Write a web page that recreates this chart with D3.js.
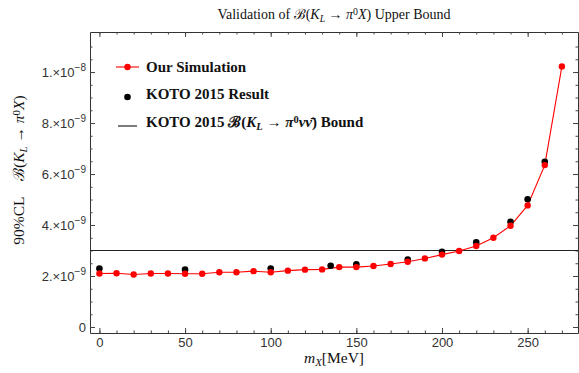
<!DOCTYPE html>
<html lang="en">
<head>
<meta charset="UTF-8">
<title>Validation of B(KL -> pi0 X) Upper Bound</title>
<script src="https://d3js.org/d3.v7.min.js"></script>
<style>
  body { margin: 0; background: #fff; }
</style>
</head>
<body>
<div id="chart"></div>
<script>
// masses in MeV, branching ratios in units of 1e-9
var simMass = [0, 10, 20, 30, 40, 50, 60, 70, 80, 90, 100, 110, 120, 130, 140,
               150, 160, 170, 180, 190, 200, 210, 220, 230, 240, 250, 260, 270];
var simBr = [2.10, 2.11, 2.06, 2.10, 2.10, 2.09, 2.09, 2.15, 2.15, 2.19, 2.15, 2.21, 2.25, 2.26, 2.35,
             2.35, 2.39, 2.47, 2.56, 2.69, 2.84, 2.98, 3.18, 3.50, 3.97, 4.77, 6.35, 10.22];
var kotoMass = [0, 50, 100, 135, 150, 180, 200, 220, 240, 250, 260];
var kotoBr = [2.29, 2.25, 2.29, 2.40, 2.46, 2.65, 2.95, 3.32, 4.13, 5.01, 6.48];
var kotoBound = 3.0;
var xTicks = [0, 50, 100, 150, 200, 250];
var yTicks = [0, 2, 4, 6, 8, 10];
var yTickLabels = ["0", "2.", "4.", "6.", "8.", "1."];
var yTickExp = [null, "-9", "-9", "-9", "-9", "-8"];

var W = 579, H = 373;
var m = {left: 90, right: 578, top: 32, bottom: 333};
var serif = "'Liberation Serif', 'DejaVu Serif', serif";
var sans = "'Liberation Sans', Arial, sans-serif";

var svg = d3.select("#chart").append("svg")
    .attr("width", W)
    .attr("height", H);

var x = d3.scaleLinear().domain([-5.5, 279.4]).range([m.left, m.right]);
var y = d3.scaleLinear().domain([-0.235, 11.57]).range([m.bottom, m.top]);

// rich text helper: parts are [text, style]
function rich(sel, parts, size) {
  parts.forEach(function(p) {
    var t = sel.append("tspan").text(p[0]);
    var s = p[1] || "";
    if (s.indexOf("i") >= 0) t.attr("font-style", "italic");
    if (s.indexOf("sub") >= 0) t.attr("font-size", size * 0.7).attr("baseline-shift", "-25%");
    if (s.indexOf("sup") >= 0) t.attr("font-size", size * 0.7).attr("baseline-shift", "40%");
  });
}

// frame axes with inward ticks
var tickCol = "#444";
function frameAxis(axis, tr) {
  var g = svg.append("g").attr("transform", tr).call(axis);
  g.select(".domain").attr("stroke", "#333");
  g.selectAll(".tick line").attr("stroke", tickCol);
  return g;
}
var xMinor = d3.range(0, 280, 10);
var yMinor = d3.range(0, 11.5, 0.5);

var gxb = frameAxis(d3.axisBottom(x).tickValues(xTicks).tickSizeInner(-5).tickSizeOuter(0).tickPadding(5)
    .tickFormat(d3.format("d")), "translate(0," + m.bottom + ")");
gxb.selectAll("text").attr("font-family", sans).attr("font-size", 13).attr("fill", "#333");
frameAxis(d3.axisBottom(x).tickValues(xMinor).tickSizeInner(-2.5).tickSizeOuter(0).tickFormat(""),
    "translate(0," + m.bottom + ")").select(".domain").remove();
frameAxis(d3.axisTop(x).tickValues(xTicks).tickSizeInner(-5).tickSizeOuter(0).tickFormat(""),
    "translate(0," + m.top + ")");
frameAxis(d3.axisTop(x).tickValues(xMinor).tickSizeInner(-2.5).tickSizeOuter(0).tickFormat(""),
    "translate(0," + m.top + ")").select(".domain").remove();

frameAxis(d3.axisLeft(y).tickValues(yTicks).tickSizeInner(-5).tickSizeOuter(0).tickFormat(""),
    "translate(" + m.left + ",0)");
frameAxis(d3.axisLeft(y).tickValues(yMinor).tickSizeInner(-2.5).tickSizeOuter(0).tickFormat(""),
    "translate(" + m.left + ",0)").select(".domain").remove();
frameAxis(d3.axisRight(y).tickValues(yTicks).tickSizeInner(-5).tickSizeOuter(0).tickFormat(""),
    "translate(" + m.right + ",0)");
frameAxis(d3.axisRight(y).tickValues(yMinor).tickSizeInner(-2.5).tickSizeOuter(0).tickFormat(""),
    "translate(" + m.right + ",0)").select(".domain").remove();

// y tick labels with exponents
yTicks.forEach(function(v, i) {
  var t = svg.append("text")
      .attr("x", m.left - 4)
      .attr("y", y(v) + 4.5)
      .attr("text-anchor", "end")
      .attr("font-family", sans)
      .attr("font-size", 13)
      .attr("fill", "#333");
  if (yTickExp[i] === null) {
    t.text(yTickLabels[i]);
  } else {
    t.append("tspan").text(yTickLabels[i] + "\u00d710");
    t.append("tspan").attr("font-size", 10).attr("dy", -6).text("\u2212" + yTickExp[i].slice(1));
  }
});

// KOTO bound line
svg.append("line")
    .attr("x1", m.left).attr("x2", m.right)
    .attr("y1", y(kotoBound)).attr("y2", y(kotoBound))
    .attr("stroke", "#222").attr("stroke-width", 1.2);

// simulation line + points
var line = d3.line().x(function(d, i) { return x(simMass[i]); }).y(function(d) { return y(d); });
svg.append("path")
    .datum(simBr)
    .attr("fill", "none")
    .attr("stroke", "#ff0000")
    .attr("stroke-width", 1.1)
    .attr("d", line);

svg.selectAll(".koto").data(kotoBr).enter().append("circle")
    .attr("cx", function(d, i) { return x(kotoMass[i]); })
    .attr("cy", function(d) { return y(d); })
    .attr("r", 3.3)
    .attr("fill", "#000");

svg.selectAll(".sim").data(simBr).enter().append("circle")
    .attr("cx", function(d, i) { return x(simMass[i]); })
    .attr("cy", function(d) { return y(d); })
    .attr("r", 3.2)
    .attr("fill", "#ff0000");

// title
var title = svg.append("text")
    .attr("x", (m.left + m.right) / 2).attr("y", 19)
    .attr("text-anchor", "middle")
    .attr("font-family", serif).attr("font-size", 14).attr("fill", "#111");
rich(title, [["Validation of "], ["\u212c("], ["K", "i"], ["L", "isub"], [" \u2192 "], ["\u03c0", "i"], ["0", "sup"], ["X", "i"], [") Upper Bound"]], 14);

// axis labels
var xl = svg.append("text")
    .attr("x", (m.left + m.right) / 2).attr("y", 363)
    .attr("text-anchor", "middle")
    .attr("font-family", serif).attr("font-size", 15.5).attr("fill", "#111");
rich(xl, [["m", "i"], ["X", "isub"], ["[MeV]"]], 15.5);

var yl = svg.append("text")
    .attr("transform", "translate(24,170) rotate(-90)")
    .attr("text-anchor", "middle")
    .attr("font-family", serif).attr("font-size", 15.5).attr("fill", "#111");
rich(yl, [["90%CL\u2003\u212c("], ["K", "i"], ["L", "isub"], [" \u2192 "], ["\u03c0", "i"], ["0", "sup"], ["X", "i"], [")"]], 15.5);

// legend
var lg = svg.append("g").attr("font-family", serif).attr("font-size", 15).attr("fill", "#111");
lg.append("line").attr("x1", 116).attr("x2", 139).attr("y1", 67).attr("y2", 67)
    .attr("stroke", "#ff0000").attr("stroke-width", 1.1);
lg.append("circle").attr("cx", 127.5).attr("cy", 67).attr("r", 3.2).attr("fill", "#ff0000");
lg.append("text").attr("x", 146).attr("y", 72).attr("font-weight", "bold").text("Our Simulation");

lg.append("circle").attr("cx", 127.5).attr("cy", 97).attr("r", 3.3).attr("fill", "#000");
lg.append("text").attr("x", 146).attr("y", 99).attr("font-weight", "bold").text("KOTO 2015 Result");

lg.append("line").attr("x1", 118).attr("x2", 137).attr("y1", 126).attr("y2", 126)
    .attr("stroke", "#222").attr("stroke-width", 1.2);
var lt = lg.append("text").attr("x", 146).attr("y", 127).attr("font-weight", "bold");
rich(lt, [["KOTO 2015 \u212c("], ["K", "i"], ["L", "isub"], [" \u2192 "], ["\u03c0", "i"], ["0", "sup"], ["\u03bd", "i"], ["\u03bd\u0304", "i"], [") Bound"]], 15);
</script>
</body>
</html>
